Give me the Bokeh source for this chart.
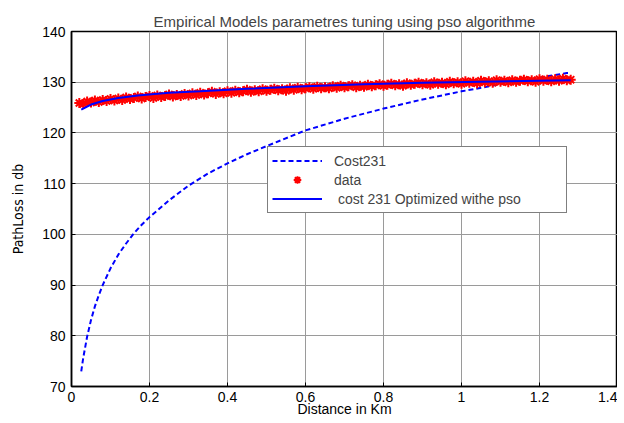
from bokeh.plotting import figure
from bokeh.models import FixedTicker, Legend, LegendItem, Range1d
from bokeh.embed import file_html
from bokeh.resources import INLINE

title_text = "Empirical Models parametres tuning using pso algorithme"
x_label = "Distance in Km"
y_label = "PathLoss in db"

x_ticks = [0, 0.2, 0.4, 0.6, 0.8, 1.0, 1.2, 1.4]
x_tick_labels = ["0", "0.2", "0.4", "0.6", "0.8", "1", "1.2", "1.4"]
y_ticks = [70, 80, 90, 100, 110, 120, 130, 140]

# Cost231 model (dashed)
cost_x = [0.025, 0.03, 0.04, 0.05, 0.06, 0.07, 0.08, 0.10, 0.12, 0.14, 0.16, 0.18,
          0.20, 0.25, 0.30, 0.35, 0.40, 0.45, 0.50, 0.60, 0.70, 0.80, 0.90, 1.00,
          1.10, 1.20, 1.27, 1.28]
cost_y = [73.0, 75.6, 79.8, 83.1, 85.8, 88.0, 90.0, 93.3, 96.0, 98.2, 100.2, 101.9,
          103.4, 106.7, 109.6, 112.0, 114.0, 115.8, 117.4, 120.5, 122.8, 124.8, 126.6, 128.2,
          129.6, 130.9, 131.8, 131.8]

# measured data (red stars)
data_x = [0.02, 0.03, 0.04, 0.05, 0.06, 0.07, 0.08, 0.09, 0.10, 0.11,
          0.12, 0.13, 0.14, 0.15, 0.16, 0.17, 0.18, 0.19, 0.20, 0.21,
          0.22, 0.23, 0.24, 0.25, 0.26, 0.27, 0.28, 0.29, 0.30, 0.31,
          0.32, 0.33, 0.34, 0.35, 0.36, 0.37, 0.38, 0.39, 0.40, 0.41,
          0.42, 0.43, 0.44, 0.45, 0.46, 0.47, 0.48, 0.49, 0.50, 0.51,
          0.52, 0.53, 0.54, 0.55, 0.56, 0.57, 0.58, 0.59, 0.60, 0.61,
          0.62, 0.63, 0.64, 0.65, 0.66, 0.67, 0.68, 0.69, 0.70, 0.71,
          0.72, 0.73, 0.74, 0.75, 0.76, 0.77, 0.78, 0.79, 0.80, 0.81,
          0.82, 0.83, 0.84, 0.85, 0.86, 0.87, 0.88, 0.89, 0.90, 0.91,
          0.92, 0.93, 0.94, 0.95, 0.96, 0.97, 0.98, 0.99, 1.00, 1.01,
          1.02, 1.03, 1.04, 1.05, 1.06, 1.07, 1.08, 1.09, 1.10, 1.11,
          1.12, 1.13, 1.14, 1.15, 1.16, 1.17, 1.18, 1.19, 1.20, 1.21,
          1.22, 1.23, 1.24, 1.25, 1.26, 1.27, 1.28]
data_y = [125.9, 125.7, 126.2, 126.0, 126.4, 126.1, 126.5, 126.3, 126.7, 126.4,
          126.8, 126.5, 127.0, 126.7, 126.9, 127.2, 126.8, 127.1, 127.3, 126.9,
          127.4, 127.1, 127.3, 127.6, 127.2, 127.5, 127.3, 127.7, 127.4, 127.8,
          127.5, 127.9, 127.6, 127.8, 128.1, 127.7, 128.0, 127.8, 128.2, 127.9,
          128.3, 128.0, 128.2, 128.5, 128.1, 128.4, 128.2, 128.6, 128.3, 128.5,
          128.7, 128.4, 128.6, 128.3, 128.8, 128.5, 128.9, 128.6, 128.8, 129.0,
          128.7, 129.1, 128.8, 129.0, 128.8, 129.2, 128.9, 129.3, 129.0, 129.2,
          129.4, 129.0, 129.3, 129.1, 129.5, 129.2, 129.4, 129.6, 129.3, 129.5,
          129.7, 129.4, 129.6, 129.3, 129.8, 129.5, 129.7, 129.9, 129.6, 129.8,
          129.5, 130.0, 129.7, 129.9, 129.6, 130.1, 129.8, 130.0, 129.7, 130.2,
          129.9, 130.1, 129.8, 130.3, 130.0, 130.2, 129.9, 130.4, 130.1, 130.3,
          130.0, 130.4, 130.1, 130.3, 130.5, 130.2, 130.4, 130.1, 130.6, 130.3,
          130.5, 130.2, 130.6, 130.3, 130.7, 130.4, 130.5]

# optimized model (solid)
opt_x = [0.025, 0.05, 0.08, 0.12, 0.17, 0.25, 0.33, 0.45, 0.60, 0.75, 0.90, 1.05, 1.20, 1.28]
opt_y = [124.6, 125.6, 126.3, 126.9, 127.4, 127.9, 128.2, 128.7, 129.2, 129.6, 129.9, 130.1, 130.3, 130.4]

FONT = "Liberation Sans"

p = figure(frame_width=546, frame_height=355,
           x_range=Range1d(0, 1.4), y_range=Range1d(70, 140),
           output_backend="svg", toolbar_location=None, title=title_text,
           min_border_left=71, min_border_right=0, min_border_top=31, min_border_bottom=0,
           background_fill_color="white", border_fill_color="white")

p.title.text_font = FONT
p.title.text_font_size = "15px"
p.title.text_font_style = "normal"
p.title.align = "center"
p.title.standoff = 4

p.xaxis.ticker = FixedTicker(ticks=x_ticks)
p.xaxis.major_label_overrides = {t: l for t, l in zip(x_ticks, x_tick_labels)}
p.yaxis.ticker = FixedTicker(ticks=y_ticks)

for ax in (p.xaxis, p.yaxis):
    ax.major_tick_in = 4
    ax.major_tick_out = 0
    ax.minor_tick_line_color = None
    ax.axis_line_color = "black"
    ax.axis_line_width = 1.5
    ax.major_tick_line_color = "black"
    ax.major_label_text_font = FONT
    ax.major_label_text_font_size = "14px"
    ax.major_label_text_color = "black"
    ax.axis_label_text_color = "black"
    ax.axis_label_text_font_style = "normal"

p.xaxis.axis_label = x_label
p.xaxis.axis_label_text_font = FONT
p.xaxis.axis_label_text_font_size = "14px"
p.xaxis.major_label_standoff = 5
p.xaxis.axis_label_standoff = -4
p.yaxis.axis_label = y_label
p.yaxis.axis_label_text_font = "DejaVu Sans Condensed"
p.yaxis.axis_label_text_font_size = "14px"
p.yaxis.major_label_standoff = 6
p.yaxis.axis_label_standoff = 13

p.xgrid.grid_line_color = "#9a9a9a"
p.ygrid.grid_line_color = "#9a9a9a"
p.xgrid.grid_line_width = 1
p.ygrid.grid_line_width = 1
p.outline_line_color = "black"
p.outline_line_width = 1.5

c1 = p.line(cost_x, cost_y, line_color="#0000ff", line_dash="5 3", line_width=2)
c2 = p.scatter(data_x, data_y, marker="asterisk", size=10, line_color="#ff0000", line_width=2)
c3 = p.line(opt_x, opt_y, line_color="#0000ff", line_width=2)

legend = Legend(items=[LegendItem(label="Cost231", renderers=[c1]),
                       LegendItem(label="data", renderers=[c2]),
                       LegendItem(label=" cost 231 Optimized withe pso", renderers=[c3])],
                location=(196, 173), border_line_color="black", border_line_width=1,
                background_fill_color="white", background_fill_alpha=1,
                label_text_font=FONT, label_text_font_size="14px",
                padding=4, spacing=0, label_height=19, glyph_height=19, glyph_width=50,
                label_standoff=12, label_width=228, margin=0)
p.add_layout(legend, "center")

open("out.html", "w").write(file_html(p, INLINE))
